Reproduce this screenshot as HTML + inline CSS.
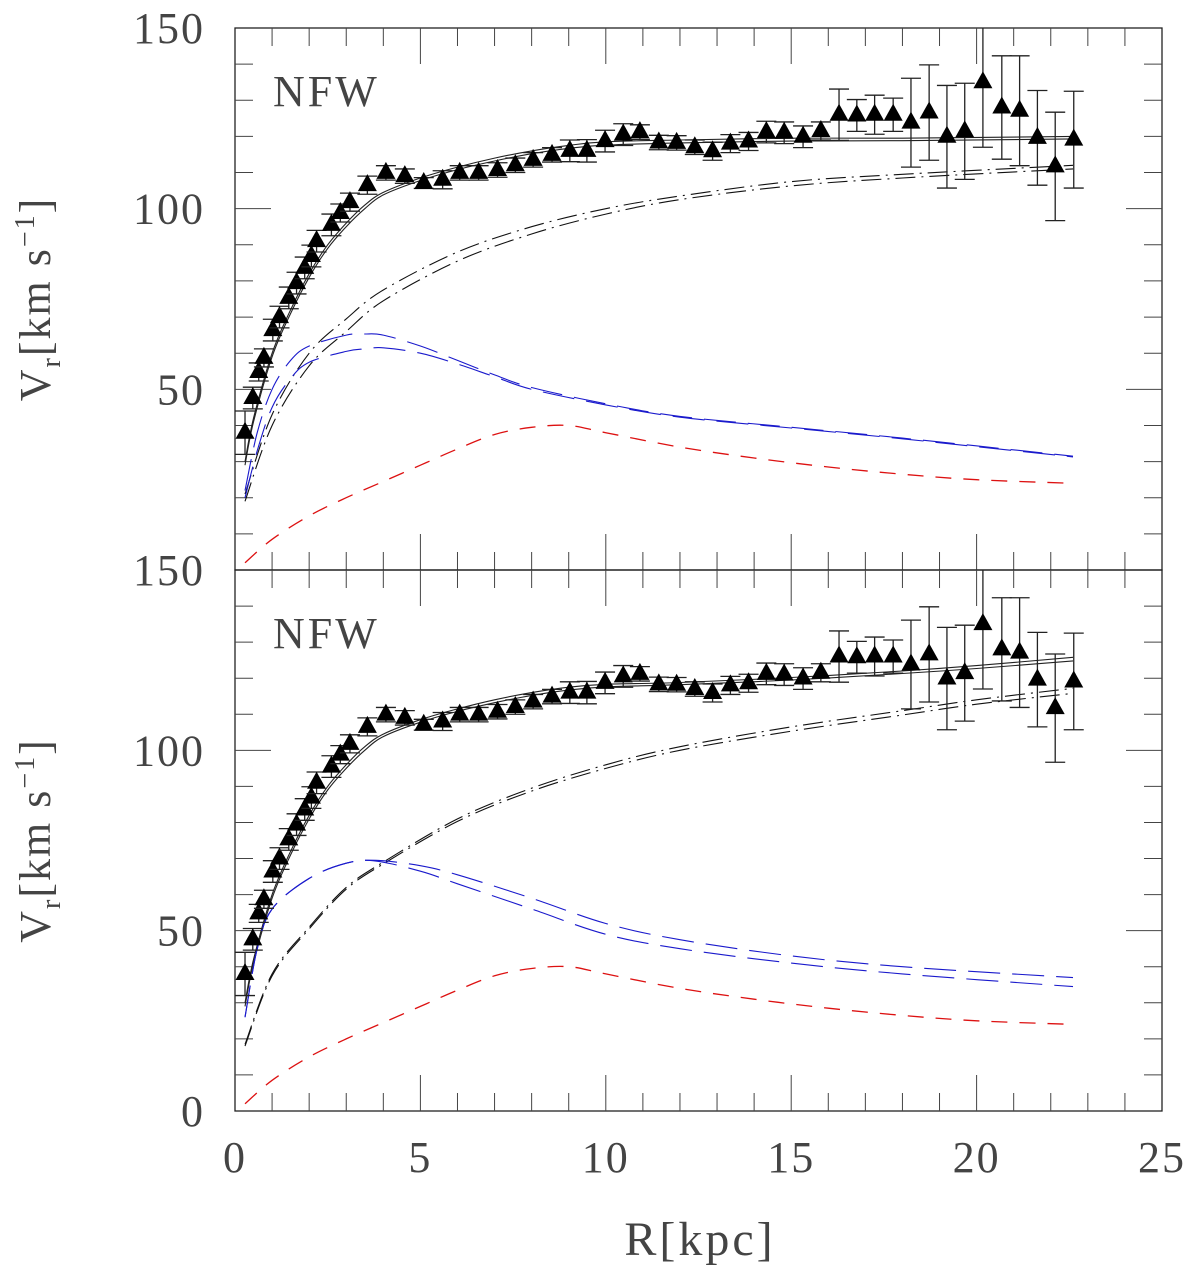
<!DOCTYPE html>
<html><head><meta charset="utf-8"><style>
html,body{margin:0;padding:0;background:#fff;}
svg{display:block;}
text{font-family:"Liberation Serif","DejaVu Serif",serif;fill:#444;}
</style></head><body>
<svg id="chart" width="1200" height="1268" viewBox="0 0 1200 1268" xmlns="http://www.w3.org/2000/svg"></svg>
<script>
// ---- data ----
const obsR = [0.27,0.48,0.64,0.78,1.02,1.2,1.45,1.66,1.88,2.06,2.2,2.6,2.84,3.1,3.57,4.07,4.58,5.09,5.6,6.06,6.57,7.08,7.56,8.04,8.55,9.03,9.49,9.98,10.47,10.92,11.43,11.91,12.4,12.88,13.36,13.85,14.33,14.81,15.32,15.8,16.29,16.77,17.25,17.75,18.23,18.72,19.2,19.68,20.17,20.68,21.16,21.64,22.12,22.62];
const obsV = [38,47.6,54.8,58.7,66.4,70,75.3,79.4,83.6,86.9,91,95.5,98.8,101.8,106.5,109.9,109,107.1,108,109.9,109.9,110.7,112,113.5,114.9,116,116,118.7,120.5,121.2,118.3,118.2,117,115.9,118,118.6,121.2,121,119.9,121.5,126,125.8,126,126,123.8,126.6,119.9,121.4,135,128,127.1,119.6,111.7,119.1];
const obsE = [6,3,2.5,2.5,3,3,3,3,3,3,3,3,2.5,2.5,2.5,2,2,1.5,2.5,2,2,2,2,2,2,3,3.1,3,3,2,2,2,2,2.5,2.5,2.5,3,3,3,2.5,7.1,4.4,5.4,4.6,12.3,13.2,14.2,13.3,18,14.3,15.2,13.1,15,13.4];

// top panel model curves
const topTotR = [0.27,0.5,1,1.5,2,2.5,3,3.5,4,5,6,7,8,9,10,12,15,18,22.6];
const topTotA = [30,42,60,72,82,90,96,101,104.5,108.5,111.5,114,116,117.5,118.5,119,119.5,119.5,120];
const topTotB = [29,41,59,71,81,89,95,100,103.8,107.8,110.8,113.2,115.2,116.7,117.6,118.2,118.7,118.8,119.3];
const topHaloR = [0.27,1,2,3,4,6,8,10,12,15,18,22.6];
const topHaloA = [21,43,60,69.5,77.5,88,95,100,103.5,107.5,109.5,112];
const topHaloB = [19,40,56.5,66,74.5,85.5,93,98.5,102.5,106.3,108.5,111];
const topDiskR = [0.27,0.6,1,1.5,2,3,3.5,4,5,6,7,8,10,12,15,18,22.6];
const topDiskA = [22,38,50,58,62,65,65.3,65,62,58,54,50.5,46,42.5,39.5,36.5,31.5];
const topDiskB = [20,33,45,53,57.5,60.5,61.2,61.5,60,57,53.5,50,45.7,42.3,39.3,36.3,31.3];
// bottom panel model curves
const botTotR = [0.27,0.5,1,1.5,2,2.5,3,3.5,4,5,6,7,8,9,10,12,15,18,20,22.6];
const botTotA = [30,42,60,72,82,90,96,101,104.5,108.5,111.5,114,116,117.5,118.3,118.8,120.2,122,123.5,125.8];
const botTotB = [29,41,59,71,81,89,95,100,103.8,107.8,110.8,113.2,115.2,116.7,117.6,118.2,119.5,121.3,122.7,124.8];
const botHaloR = [0.27,1,2,3,4,6,8,10,12,15,18,20,22.6];
const botHaloA = [18.5,38,51,62,69,81,89.5,96,101,106.5,111,114,117.2];
const botHaloB = [18,37.5,50.5,61.5,68.5,80.3,88.7,95,100,105.3,109.8,112.8,115.8];
const botDiskR = [0.27,0.6,1,2,3,3.8,5,6,8,10,12,15,18,22.6];
const botDiskA = [26,45,56,64.5,68.7,69.5,68,65.5,59,52,47.5,43,40,37];
const botDiskB = [26,45,56,64.5,68.7,69.3,66.5,63,56,49,45,41,38,34.5];
// gas (same both panels)
const gasR = [0.27,1,2,3,4,5,6,7,8,9,10,12,14,16,18,20,22.6];
const gasV = [2,8.5,15,20,24.5,29,33.5,37.5,39.5,40,38,34,31,28.5,26.5,25,24];

const xTicks = [0,5,10,15,20,25];
const yTickLabels = [0,50,100,150];

// ---- layout ----
const NS = "http://www.w3.org/2000/svg";
const svg = document.getElementById('chart');
const X0 = 235, X1 = 1162;
const panels = [{top:28,bot:570,name:'top'},{top:570,bot:1111,name:'bottom'}];
function xs(r){return X0 + r*(X1-X0)/25;}
function ysF(p){return v => p.bot - v*(p.bot-p.top)/150;}
function el(tag, attrs, parent){const e=document.createElementNS(NS,tag);for(const k in attrs)e.setAttribute(k,attrs[k]);(parent||svg).appendChild(e);return e;}
function smoothPath(R,V,ys){
  const pts=R.map((r,i)=>[xs(r),ys(V[i])]);
  let d='M'+pts[0][0].toFixed(1)+','+pts[0][1].toFixed(1);
  for(let i=0;i<pts.length-1;i++){
    const p0=pts[Math.max(0,i-1)],p1=pts[i],p2=pts[i+1],p3=pts[Math.min(pts.length-1,i+2)];
    const c1=[p1[0]+(p2[0]-p0[0])/6,p1[1]+(p2[1]-p0[1])/6];
    const c2=[p2[0]-(p3[0]-p1[0])/6,p2[1]-(p3[1]-p1[1])/6];
    d+=' C'+c1[0].toFixed(1)+','+c1[1].toFixed(1)+' '+c2[0].toFixed(1)+','+c2[1].toFixed(1)+' '+p2[0].toFixed(1)+','+p2[1].toFixed(1);
  }
  return d;
}
const FONT='"Liberation Serif","DejaVu Serif",serif';

panels.forEach((p,pi)=>{
  const ys = ysF(p);
  const g = el('g',{});
  
  
  const fr = el('rect',{x:X0,y:p.top,width:X1-X0,height:p.bot-p.top,fill:'none',stroke:'#222','stroke-width':1.3},g);
  
  
  for(let k=1;k<25;k++){
    const L = (k%5===0)?36:18, x=xs(k);
    el('line',{x1:x,y1:p.bot,x2:x,y2:p.bot-L,stroke:'#444','stroke-width':1},g);
    el('line',{x1:x,y1:p.top,x2:x,y2:p.top+L,stroke:'#444','stroke-width':1},g);
  }
  for(let v=10;v<150;v+=10){
    const L=(v%50===0)?36:18, y=ys(v);
    el('line',{x1:X0,y1:y,x2:X0+L,y2:y,stroke:'#444','stroke-width':1},g);
    el('line',{x1:X1,y1:y,x2:X1-L,y2:y,stroke:'#444','stroke-width':1},g);
  }
  yTickLabels.forEach(v=>{
    if(pi===0 && v===0) return;
    const t=el('text',{x:205,y:ys(v)+15,'text-anchor':'end','font-size':44,'font-family':FONT,'letter-spacing':2},g);
    t.textContent=String(v);
    
    
  });
  const yt=el('text',{transform:`translate(50,${(p.top+p.bot)/2}) rotate(-90)`,'text-anchor':'middle','font-size':44,'font-family':FONT,'letter-spacing':2},g);
  yt.innerHTML='V<tspan font-size="28" dy="10">r</tspan><tspan dy="-10">[km  s</tspan><tspan font-size="28" dy="-16">−1</tspan><tspan dy="16">]</tspan>';
  
  
  const nf=el('text',{x:273,y:p.top+78,'font-size':44,'font-family':FONT,'letter-spacing':3},g);
  nf.textContent='NFW';
  
  

  const curves = pi===0 ?
    [[topTotR,topTotA,'#222','none',1.1,'total-a'],[topTotR,topTotB,'#222','none',1.1,'total-b'],
     [topHaloR,topHaloA,'#111','20 6 2 6',1.1,'halo-a'],[topHaloR,topHaloB,'#111','20 6 2 6',1.1,'halo-b'],
     [topDiskR,topDiskA,'#1a1acc','32 12',1.1,'disk-a'],[topDiskR,topDiskB,'#1a1acc','32 12',1.1,'disk-b']] :
    [[botTotR,botTotA,'#222','none',1.1,'total-a'],[botTotR,botTotB,'#222','none',1.1,'total-b'],
     [botHaloR,botHaloA,'#111','20 6 2 6',1.1,'halo-a'],[botHaloR,botHaloB,'#111','20 6 2 6',1.1,'halo-b'],
     [botDiskR,botDiskA,'#1a1acc','32 12',1.1,'disk-a'],[botDiskR,botDiskB,'#1a1acc','32 12',1.1,'disk-b']];
  curves.push([gasR,gasV,'#dd1111','16 12',1.3,'gas']);
  curves.forEach(c=>{
    const pa=el('path',{d:smoothPath(c[0],c[1],ys),fill:'none',stroke:c[2],'stroke-width':c[4],'stroke-dasharray':c[3]},g);
    
    
  });
  obsR.forEach((r,i)=>{
    const x=xs(r), y=ys(obsV[i]);
    const yHi=ys(obsV[i]+obsE[i]), yTop=Math.max(p.top, yHi), yBot=ys(obsV[i]-obsE[i]);
    let d=`M${x},${yTop}L${x},${yBot}M${x-10},${yBot}L${x+10},${yBot}`;
    if(yHi>=p.top) d+=`M${x-10},${yHi}L${x+10},${yHi}`;
    const eb=el('path',{d:d,stroke:'#222','stroke-width':1.3,fill:'none'},g);
    
    
    const tr=el('polygon',{points:`${x},${y-11} ${x-9.5},${y+6} ${x+9.5},${y+6}`,fill:'#000'},g);
    
    
  });
});
xTicks.forEach(v=>{
  const t=el('text',{x:xs(v),y:1172,'text-anchor':'middle','font-size':44,'font-family':FONT,'letter-spacing':2});
  t.textContent=String(v);
  
  
});
const xt=el('text',{x:700,y:1255,'text-anchor':'middle','font-size':48,'font-family':FONT,'letter-spacing':3});
xt.textContent='R[kpc]';


</script>
</body></html>
